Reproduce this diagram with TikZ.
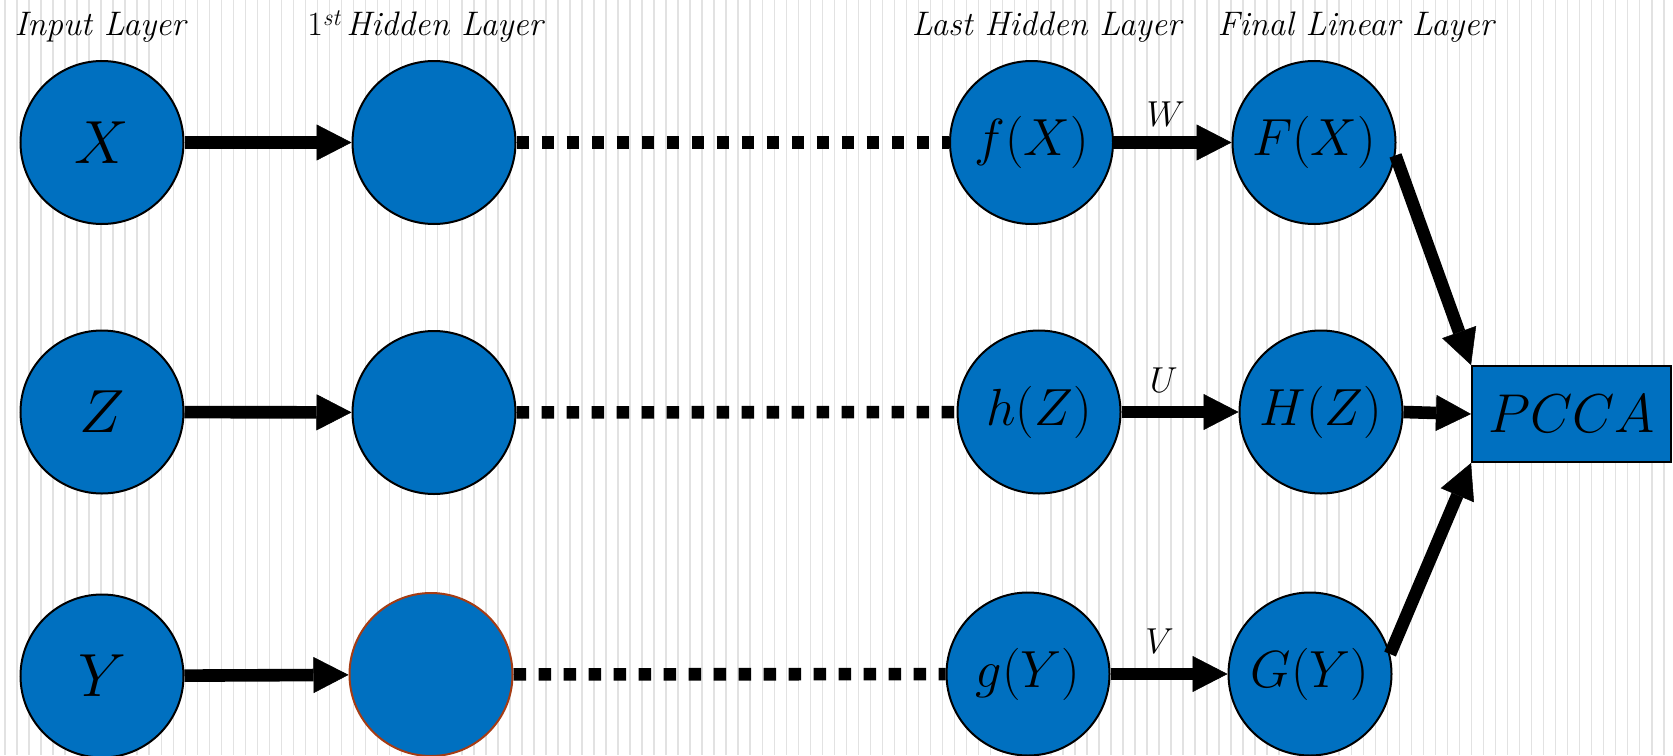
\documentclass[tikz,border=0pt]{standalone}
\usepackage{graphicx}
\usetikzlibrary{arrows.meta}

\definecolor{nodeblue}{RGB}{0,112,192}
\definecolor{rimred}{RGB}{165,60,20}
\definecolor{stripegray}{RGB}{226,226,226}

% math label set at \Huge and enlarged by a factor
\newcommand{\mathlbl}[2]{\scalebox{#1}{\Huge$#2$}}

\tikzset{
  unit/.style={circle, fill=nodeblue, draw=black, line width=2pt,
               minimum size=163pt, inner sep=0pt},
  flow/.style={line width=12.6pt,
               -{Triangle[length=35pt,width=36pt,line width=0.5pt]}},
  skipline/.style={line width=12.6pt, dash pattern=on 12.5pt off 12.5pt},
  header/.style={anchor=base, inner sep=0pt,
                 font=\fontsize{34}{34}\selectfont\itshape},
  wlbl/.style={inner sep=0pt},
}

\begin{document}
\begin{tikzpicture}[x=1pt,y=-1pt]
\useasboundingbox (0,0) rectangle (1673,755);
\fill[white] (0,0) rectangle (1673,755);
% ruled background
\foreach \i in {0,...,139}
  \draw[stripegray, line width=1.5pt] ({5+12.02*\i},0) -- ++(0,755);

% column headings
\node[header] (hIn)   at (100,35)    {Input Layer};
\node[header] (hHid)  at (425,35)    {\upshape 1\textsuperscript{\itshape st}\,\itshape Hidden Layer};
\node[header] (hLast) at (1046.5,35) {Last Hidden Layer};
\node[header] (hFin)  at (1355.6,35) {Final Linear Layer};

% inputs
\node[unit] (X) at (102,142.5) {\mathlbl{2.45}{X}};
\node[unit] (Z) at (102,412)   {\mathlbl{2.45}{Z}};
\node[unit] (Y) at (102,676)   {\mathlbl{2.45}{Y}};

% first hidden layer
\node[unit] (H1) at (434,142.5) {};
\node[unit] (H2) at (434,412.5) {};
\node[unit, draw=rimred] (H3) at (431,674.5) {};

% last hidden layer
\node[unit] (fX) at (1031.5,142.5) {\mathlbl{2.1}{f(X)}};
\node[unit] (hZ) at (1039,412)     {\mathlbl{2.1}{h(Z)}};
\node[unit] (gY) at (1028,674)     {\mathlbl{2.1}{g(Y)}};

% final linear layer
\node[unit] (FX) at (1314,142.5) {\mathlbl{2.1}{F(X)}};
\node[unit] (HZ) at (1321,412)   {\mathlbl{2.1}{H(Z)}};
\node[unit] (GY) at (1310,674)   {\mathlbl{2.1}{G(Y)}};

% correlation analysis block
\node[rectangle, fill=nodeblue, draw=black, line width=2pt, inner sep=0pt,
      minimum width=199pt, minimum height=96pt] (P) at (1571.5,414)
      {\mathlbl{2.2}{PCCA}};

% input to first hidden layer
\draw[flow] (X) -- (H1);
\draw[flow] (Z) -- (H2);
\draw[flow] (Y) -- (H3);

% intermediate layers
\draw[skipline] (H1) -- (fX);
\draw[skipline] (H2) -- (hZ);
\draw[skipline] (H3) -- (gY);

% linear projections
\draw[flow] (fX) -- node[wlbl, pos=0.44, above=10pt] {\mathlbl{1.45}{W}} (FX);
\draw[flow] (hZ) -- node[wlbl, pos=0.36, above=13pt] {\mathlbl{1.45}{U}} (HZ);
\draw[flow] (gY) -- node[wlbl, pos=0.42, above=14pt] {\mathlbl{1.45}{V}} (GY);

% into PCCA
\draw[flow] (FX.-9) -- (P.north west);
\draw[flow] (HZ.east) -- (P.west);
\draw[flow] (GY.14) -- (P.south west);
\end{tikzpicture}
\end{document}
